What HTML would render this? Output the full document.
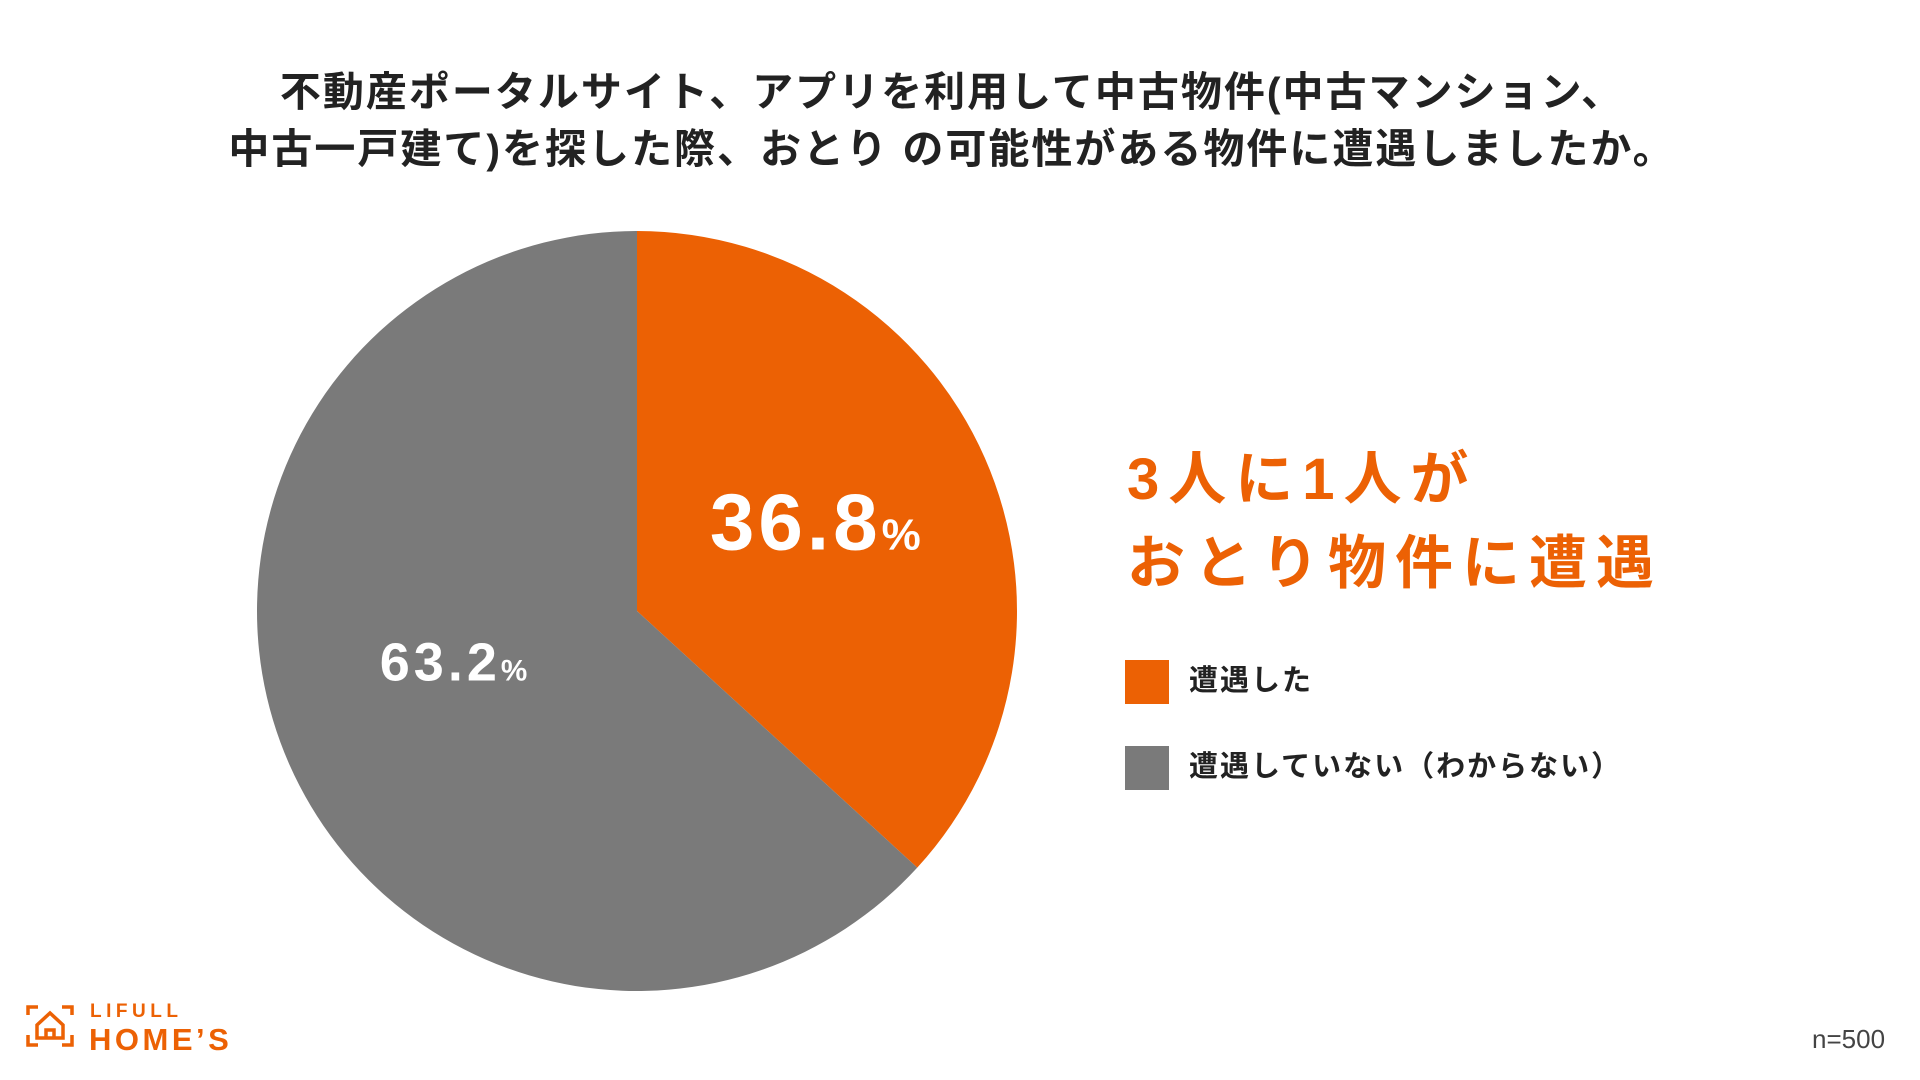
<!DOCTYPE html>
<html><head><meta charset="utf-8"><style>
html,body{margin:0;padding:0;background:#fff;}
body{width:1920px;height:1080px;position:relative;overflow:hidden;font-family:"Liberation Sans","Noto Sans CJK JP",sans-serif;}
.t{position:absolute;white-space:nowrap;}
</style></head><body>
<div class="t" style="left:0;width:1904px;top:64px;text-align:center;font-size:41px;font-weight:bold;line-height:57px;color:#222;letter-spacing:2px;">不動産ポータルサイト、アプリを利用して中古物件(中古マンション、<br>中古一戸建て)を探した際、おとり の可能性がある物件に遭遇しましたか。</div>
<svg id="pie" width="1920" height="1080" style="position:absolute;left:0;top:0;"></svg>
<div class="t" style="left:1127px;top:438px;font-size:58px;font-weight:bold;line-height:84px;color:#EC6104;letter-spacing:9px;">3人に1人が<br>おとり物件に遭遇</div>
<div style="position:absolute;left:1125px;top:660px;width:44px;height:44px;background:#EC6104;"></div>
<div class="t" style="left:1189px;top:663px;font-size:29px;font-weight:bold;color:#222;line-height:36px;letter-spacing:2px;">遭遇した</div>
<div style="position:absolute;left:1125px;top:746px;width:44px;height:44px;background:#7A7A7A;"></div>
<div class="t" style="left:1189px;top:749px;font-size:29px;font-weight:bold;color:#222;line-height:36px;letter-spacing:2px;">遭遇していない（わからない）</div>
<div class="t" style="left:1812px;top:1024px;font-size:26px;color:#444;">n=500</div>
<svg width="260" height="70" style="position:absolute;left:20px;top:995px;">
<g fill="none" stroke="#EC6104" stroke-width="3.5">
<path d="M8 20 V12 H18 M42 12 H52 V20 M8 40 V50 H18 M42 50 H52 V40"/>
<path d="M17 43 V30 L30 18 L43 30 V43 Z"/><path d="M26 43 V35 H34 V43"/>
</g>
<text x="70" y="22" font-family="Liberation Sans, sans-serif" font-weight="bold" font-size="19" fill="#EC6104" letter-spacing="4.5">LIFULL</text>
<text x="69" y="55" font-family="Liberation Sans, sans-serif" font-weight="bold" font-size="31" fill="#EC6104" letter-spacing="3.5">HOME’S</text>
</svg>
<script>
const categories=["遭遇した","遭遇していない（わからない）"];
const values=[36.8,63.2];
const colors=["#EC6104","#7A7A7A"];
const svg=document.getElementById('pie');
const NS='http://www.w3.org/2000/svg';
const cx=637,cy=611,r=380;
const total=values.reduce((a,b)=>a+b,0);
function pt(frac,rad){const a=frac*2*Math.PI-Math.PI/2;return [cx+rad*Math.cos(a),cy+rad*Math.sin(a)];}
let acc=0;
values.forEach((v,i)=>{
  const s=acc/total,e=(acc+v)/total;acc+=v;
  const p0=pt(s,r),p1=pt(e,r);const large=(e-s)>0.5?1:0;
  const path=document.createElementNS(NS,'path');
  path.setAttribute('d',`M${cx},${cy} L${p0[0]},${p0[1]} A${r},${r} 0 ${large} 1 ${p1[0]},${p1[1]} Z`);
  path.setAttribute('fill',colors[i]);
  
  
  svg.appendChild(path);
  const mid=(s+e)/2;const lp=pt(mid,i===0?r*0.53:r*0.47);
  const big=i===0?80:54;
  const t=document.createElementNS(NS,'text');
  t.setAttribute('x',lp[0]-(i===0?4:18));
  t.setAttribute('y',lp[1]+big*0.36-(i===0?9:22));
  t.setAttribute('text-anchor','middle');t.setAttribute('fill','#fff');
  t.setAttribute('font-family','Liberation Sans, sans-serif');t.setAttribute('font-weight','bold');
  t.setAttribute('font-size',big);
  t.setAttribute('letter-spacing',4);
  
  
  t.textContent=v.toFixed(1);
  const ts=document.createElementNS(NS,'tspan');ts.setAttribute('font-size',big*0.55);ts.textContent='%';
  t.appendChild(ts);
  svg.appendChild(t);
});
</script>
</body></html>
